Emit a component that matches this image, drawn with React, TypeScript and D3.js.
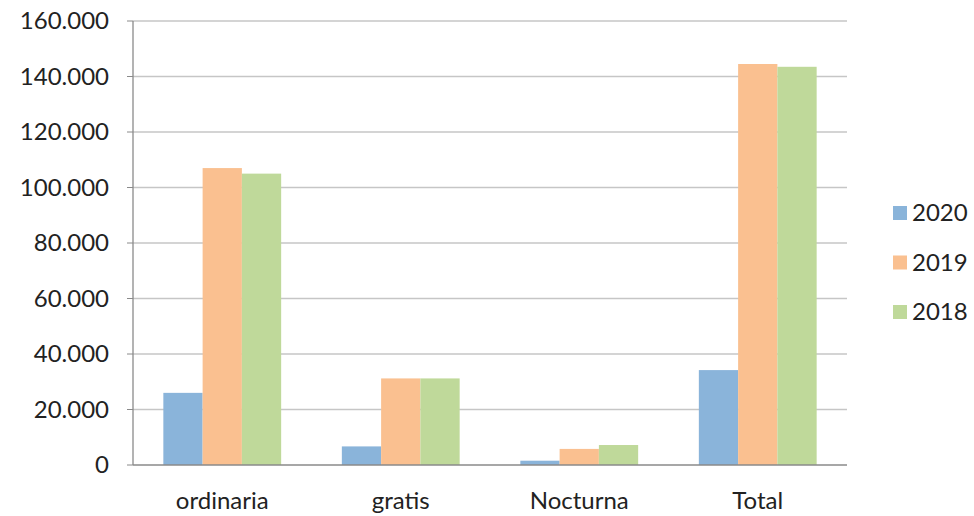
import React from "react";
import * as d3 from "d3";

const categories = ["ordinaria", "gratis", "Nocturna", "Total"];
const seriesNames = ["2020", "2019", "2018"];
const values2020 = [26000, 6700, 1550, 34200];
const values2019 = [107000, 31200, 5800, 144500];
const values2018 = [105000, 31200, 7200, 143500];
const yTicks = [0, 20000, 40000, 60000, 80000, 100000, 120000, 140000, 160000];
const colors = ["#8ab4da", "#fac090", "#bfd99a"];

export default function App() {
  const W = 974, H = 516;
  const left = 133, right = 847, top = 21, bottom = 465;
  const series = [values2020, values2019, values2018];
  const x = d3.scaleBand<string>().domain(categories).range([left, right]).paddingInner(0.34).paddingOuter(0.17);
  const xs = d3.scaleBand<string>().domain(seriesNames).range([0, x.bandwidth()]);
  const y = d3.scaleLinear().domain([0, 160000]).range([bottom, top]);
  const fmt = (v: number) => (v === 0 ? "0" : d3.format(",")(v).replace(/,/g, "."));
  const font = "Lato, 'Open Sans', sans-serif";
  return (
    <svg width={W} height={H} style={{ position: "absolute", left: 0, top: 0, background: "#fff" }}>
      {yTicks.map((t) => (
        <g key={t}>
          {t > 0 && <line x1={left} x2={right} y1={y(t)} y2={y(t)} stroke="#c6c6c6" strokeWidth={1.5} />}
          <line x1={left - 6} x2={left} y1={y(t)} y2={y(t)} stroke="#8a8a8a" strokeWidth={1} />
          <text x={109} y={y(t)} dy="0.35em" textAnchor="end" fontSize={24} fill="#222" fontFamily={font}>
            {fmt(t)}
          </text>
        </g>
      ))}
      {categories.map((c, i) =>
        series.map((s, j) => (
          <rect
            key={c + j}
            x={(x(c) as number) + (xs(seriesNames[j]) as number)}
            y={y(s[i])}
            width={xs.bandwidth()}
            height={bottom - y(s[i])}
            fill={colors[j]}
          />
        ))
      )}
      <line x1={left} x2={left} y1={top} y2={bottom} stroke="#8a8a8a" strokeWidth={1.3} />
      <line x1={left} x2={right} y1={bottom} y2={bottom} stroke="#8a8a8a" strokeWidth={1.3} />
      {categories.map((c) => (
        <text key={c} x={(x(c) as number) + x.bandwidth() / 2} y={509} textAnchor="middle" fontSize={24} fill="#222" fontFamily={font}>
          {c}
        </text>
      ))}
      {seriesNames.map((n, j) => (
        <g key={n} transform={`translate(893, ${213 + j * 49.5})`}>
          <rect x={0} y={-7} width={14} height={14} fill={colors[j]} />
          <text x={19} y={0} dy="0.35em" fontSize={24} fill="#222" fontFamily={font}>
            {n}
          </text>
        </g>
      ))}
    </svg>
  );
}
